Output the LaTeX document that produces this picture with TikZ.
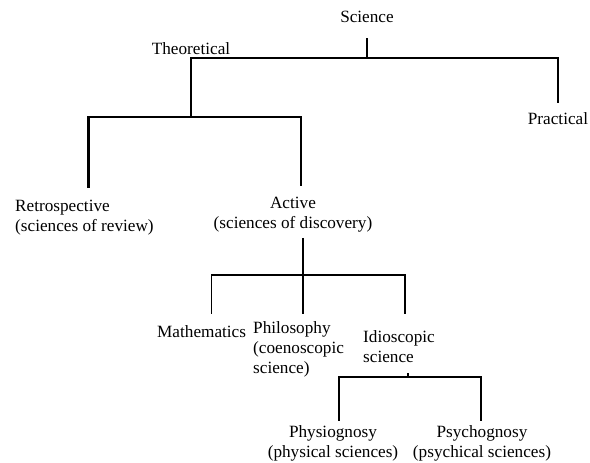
\documentclass[tikz,border=0pt]{standalone}
\usepackage{fontspec}
\setmainfont{Liberation Serif}

\begin{document}
\begin{tikzpicture}[x=1pt,y=-1pt,
    label/.style ={font=\fontsize{17.2}{20}\selectfont, inner sep=0pt},
    heavy/.style ={line width=2.9pt},
    light/.style ={line width=1.2pt}]
   \useasboundingbox (0,0) rectangle (590,463);
   \node[label,anchor=base] (sci) at (367,23) {Science};
   \node[label,anchor=base] (theo) at (191,54) {Theoretical};
   \node[label,anchor=base] (prac) at (558,124) {Practical};
   \node[label,anchor=base west,align=left] (retro) at (15,231) {Retrospective\\(sciences of review)};
   \node[label,anchor=base,align=center] (act) at (293,228) {Active\\(sciences of discovery)};
   \node[label,anchor=base west] (math) at (157,337) {Mathematics};
   \node[label,anchor=base west,align=left] (phil) at (253,373) {Philosophy\\(coenoscopic\\science)};
   \node[label,anchor=base west,align=left] (idio) at (363,362) {Idioscopic\\science};
   \node[label,anchor=base,align=center] (phys) at (333,457) {Physiognosy\\(physical sciences)};
   \node[label,anchor=base,align=center] (psych) at (482,457) {Psychognosy\\(psychical sciences)};
   \coordinate (s1) at (367,58);
   \coordinate (s2) at (191,117);
   \coordinate (s3) at (303,275);
   \coordinate (s4) at (408,377);
   % theoretical / practical
   \draw[light] (sci.south) ++(0,15) -- (s1);
   \draw[heavy] (s1) -| (theo.south |- s2);
   \draw[heavy] (s1) -| ([yshift=9pt]prac.north);
   % retrospective / active
   \draw[heavy] (s2) -| ([xshift=4pt,yshift=11pt]retro.north);
   \draw[heavy] (s2) -| ([xshift=8pt,yshift=10pt]act.north);
   % branches of active
   \draw[light] (s3 |- act.south) ++(0,6) -- (s3);
   \draw[light] (s3) -| ([xshift=9.5pt,yshift=11pt]math.north);
   \draw[light] (s3) -- ([yshift=7pt]s3 |- phil.north);
   \draw[light] (s3) -| ([xshift=6pt,yshift=16pt]idio.north);
   % branches of idioscopic
   \draw[light] (s4) ++(0,-4) -- (s4);
   \draw[light] (s4) -| ([xshift=6pt,yshift=4pt]phys.north);
   \draw[light] (s4) -| ([xshift=-1pt,yshift=4pt]psych.north);
\end{tikzpicture}
\end{document}
